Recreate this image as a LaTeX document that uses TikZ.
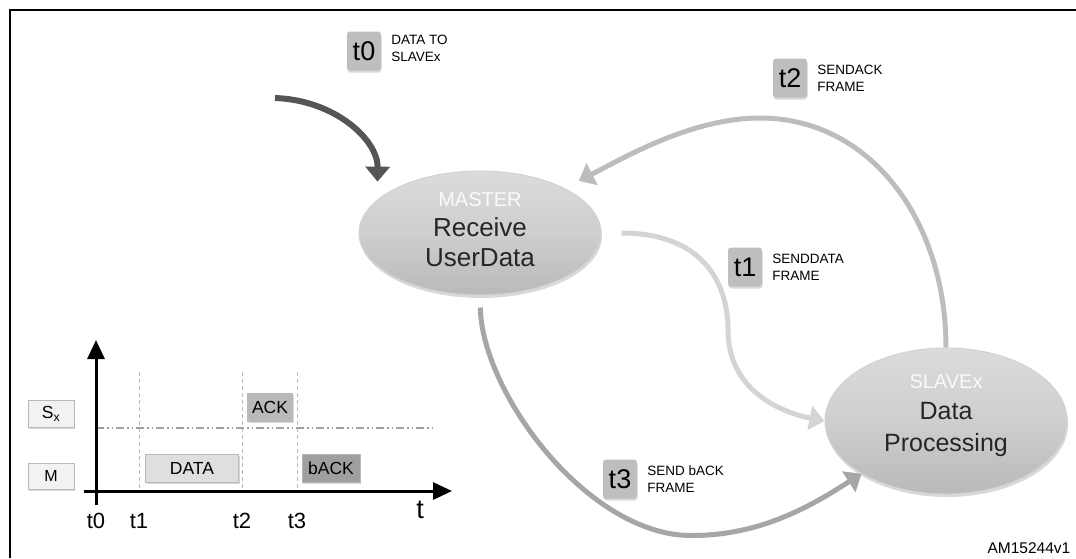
\documentclass[tikz,border=0pt]{standalone}
\usepackage{fontspec}
\setmainfont{Liberation Sans}
\usepackage{tikz}
\usetikzlibrary{arrows.meta}
\usetikzlibrary{positioning,shapes.geometric,shadows}
\definecolor{flowdark}{HTML}{555555}
\definecolor{flowack}{HTML}{BDBDBD}
\definecolor{flowdata}{HTML}{D4D4D4}
\definecolor{flowback}{HTML}{A6A6A6}
\definecolor{tagfill}{HTML}{BEBEBE}
\newcommand{\setpx}[2]{\fontsize{#1}{#2}\selectfont}

\begin{document}
\begin{tikzpicture}[x=1pt,y=-1pt,>=latex,
	state/.style={ellipse,minimum width=242pt,minimum height=124pt,top color=gray!28,bottom color=gray!55,middle color=gray!38,draw=gray!35,line width=1pt,
		drop shadow={opacity=0.3,shadow xshift=1pt,shadow yshift=-3pt}},
	statetag/.style={text=gray!4,font=\setpx{20}{20}},
	statetext/.style={align=center,text=black!85,font=\setpx{26}{30}},
	tagbox/.style={fill=tagfill,rounded corners=3pt,minimum width=34pt,minimum height=39pt,inner sep=0pt,font=\setpx{27}{27},
		drop shadow={opacity=0.3,shadow xshift=0.5pt,shadow yshift=-2pt}},
	taginfo/.style={align=left,inner sep=0pt,font=\setpx{13.5}{17}},
	flowarrow/.style={line width=5pt,-{Triangle[width=24pt,length=15pt]}},
	slotbox/.style={fill=#1,draw=gray!55,line width=0.6pt,minimum height=28pt,inner sep=0pt,font=\setpx{17.5}{17.5},
		drop shadow={opacity=0.3,shadow xshift=1pt,shadow yshift=-1.5pt}},
	axis/.style={line width=3pt,-{Triangle[width=17pt,length=19pt]}}]
			\useasboundingbox (0,0) rectangle (1076,558);
			% Draw the frame
			\draw[line width=2pt] (10,558) -- (10,10) -- (1076,10);

			% Draw the states
			\node[state] (master) at (480,233) {};
			\node[statetag] (mastertag) at (480,200) {MASTER};
			\node[statetext] (mastertext) at (480,242) {Receive\\UserData};
			\node[state,minimum height=146pt] (slave) at (946,421) {};
			\node[statetag] (slavetag) at (946,382) {SLAVEx};
			\node[statetext,font=\setpx{25}{32}] (slavetext) at (946,429) {Data\\Processing};

			% Draw the transitions
			\coordinate (t0start) at (275,98);
			\draw[flowarrow,flowdark,line width=6pt,shorten >=18pt] (t0start) .. controls (335,100) and (378,140) .. (master.162);
			\draw[flowarrow,flowack,shorten >=16pt] (slave.north) .. controls (946,220) and (870,118) .. (760,118)
				.. controls (690,118) and (620,160) .. (master.28);
			\draw[flowarrow,flowdata,shorten <=20pt] (master.east) .. controls (700,233) and (728,280) .. (728,330)
				.. controls (728,390) and (780,412) .. (slave.west);
			\draw[flowarrow,flowback,shorten <=12pt] (master.south) .. controls (482,390) and (580,525) .. (680,535)
				.. controls (760,540) and (820,500) .. (slave.212);

			% Draw the time tags
			\node[tagbox] (t0tag) at (364,51) {t0};
			\node[taginfo,right=10pt of t0tag,yshift=3pt] (t0info) {DATA TO\\SLAVEx};
			\node[tagbox] (t2tag) at (790,78) {t2};
			\node[taginfo,right=10pt of t2tag] (t2info) {SENDACK\\FRAME};
			\node[tagbox] (t1tag) at (745,267) {t1};
			\node[taginfo,right=10pt of t1tag] (t1info) {SENDDATA\\FRAME};
			\node[tagbox] (t3tag) at (620,479) {t3};
			\node[taginfo,right=10pt of t3tag] (t3info) {SEND bACK\\FRAME};

			% Draw the timing chart
			\coordinate (yfoot) at (96,505);
			\coordinate (ytip) at (96,340);
			\coordinate (xfoot) at (84,491);
			\coordinate (xtip) at (452,491);
			\foreach \x/\n in {139/1,242/2,297/3} {
				\coordinate (guide\n) at (\x,372);
				\draw[gray!55,line width=0.8pt,dash pattern=on 4pt off 3pt] (guide\n) -- (guide\n |- xtip);
			}
			\coordinate (busleft) at (96,428);
			\coordinate (busright) at (435,428);
			\draw[gray!75,line width=1.2pt,dash pattern=on 8pt off 3pt on 1.5pt off 3pt on 1.5pt off 3pt] (busleft) -- (busright);
			\draw[axis] (yfoot) -- (ytip);
			\draw[axis] (xfoot) -- (xtip);
			\node[font=\setpx{27}{27}] (tlabel) at (420,510) {t};
			\foreach \x/\n in {96/0,139/1,242/2,297/3}
				\node[font=\setpx{22}{22}] (tick\n) at (\x,521) {t\n};

			% Draw the frames on the chart
			\node[slotbox=gray!10,minimum width=46pt,minimum height=27pt] (sxrow) at (51,414) {S\textsubscript{x}};
			\node[slotbox=gray!10,minimum width=46pt,minimum height=26pt,font=\setpx{16}{16}] (mrow) at (51,476) {M};
			\node[slotbox=gray!55,minimum width=45pt] (ackslot) at (270,407) {ACK};
			\node[slotbox=gray!25,minimum width=93pt] (dataslot) at (192,468) {DATA};
			\node[slotbox=gray!75,minimum width=58pt] (backslot) at (331,468) {bACK};

			\node[anchor=west,font=\setpx{15.5}{15.5}] (docref) at (984,548) {AM15244v1};
		\end{tikzpicture}
\end{document}
